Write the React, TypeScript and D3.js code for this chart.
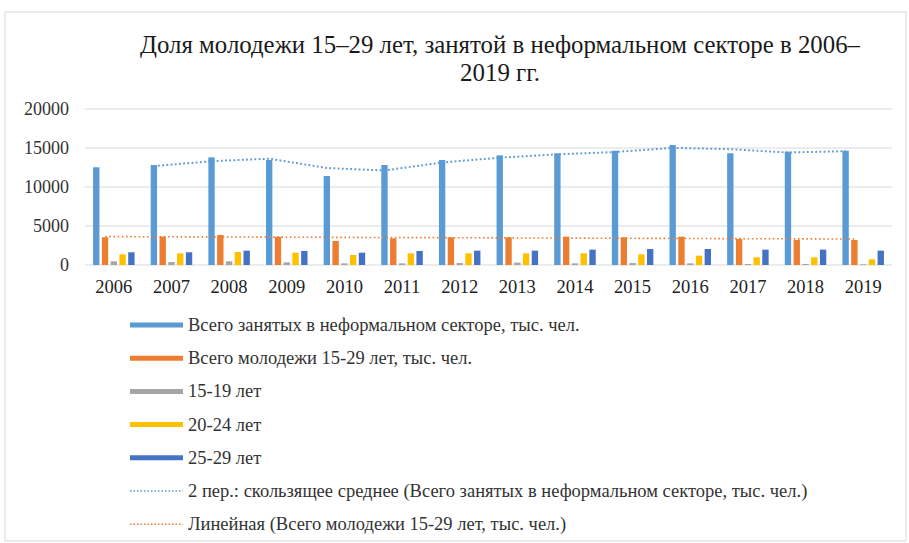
import React from "react";
import * as d3 from "d3";

const years = ["2006","2007","2008","2009","2010","2011","2012","2013","2014","2015","2016","2017","2018","2019"];
const totalInformal = [12530, 12820, 13800, 13460, 11410, 12820, 13460, 14060, 14320, 14650, 15380, 14320, 14530, 14650];
const youthTotal = [3550, 3630, 3850, 3630, 3080, 3420, 3550, 3550, 3630, 3550, 3630, 3330, 3200, 3200];
const age1519 = [470, 380, 470, 340, 210, 210, 250, 300, 210, 250, 210, 130, 130, 90];
const age2024 = [1370, 1500, 1670, 1580, 1280, 1500, 1500, 1500, 1500, 1370, 1200, 990, 990, 730];
const age2529 = [1630, 1630, 1840, 1800, 1580, 1800, 1840, 1840, 1970, 2050, 2050, 1970, 1970, 1840];
const yTicks = [0, 5000, 10000, 15000, 20000];

const seriesNames = [
  "Всего занятых в неформальном секторе, тыс. чел.",
  "Всего молодежи 15-29 лет, тыс. чел.",
  "15-19 лет",
  "20-24 лет",
  "25-29 лет",
];
const trendNames = [
  "2 пер.: скользящее среднее (Всего занятых в неформальном секторе, тыс. чел.)",
  "Линейная (Всего молодежи 15-29 лет, тыс. чел.)",
];
const colors = ["#5B9BD5", "#ED7D31", "#A5A5A5", "#FFC000", "#4472C4"];

const W = 909, H = 543;
const left = 85, right = 892, top = 109, bottom = 265;
const font = "Liberation Serif";

export default function App() {
  const series = [totalInformal, youthTotal, age1519, age2024, age2529];
  const x = d3.scaleBand<string>().domain(years).range([left, right]).paddingInner(0.28).paddingOuter(0.14);
  const xs = d3.scaleBand<number>().domain(d3.range(5)).range([0, x.bandwidth()]).paddingInner(0.276);
  const y = d3.scaleLinear().domain([0, 20000]).range([bottom, top]);

  const ma = years.slice(1).map((yr, i) => ({ yr, v: (totalInformal[i] + totalInformal[i + 1]) / 2 }));
  const maLine = d3.line<{ yr: string; v: number }>()
    .x(d => (x(d.yr) as number) + (xs(0) as number) + xs.bandwidth() / 2)
    .y(d => y(d.v));

  const idx = years.map((_, i) => i + 1);
  const mx = d3.mean(idx) as number, my = d3.mean(youthTotal) as number;
  const slope = d3.sum(idx.map((t, i) => (t - mx) * (youthTotal[i] - my))) / d3.sum(idx.map(t => (t - mx) ** 2));
  const icpt = my - slope * mx;
  const trendPts = years.map((yr, i) => ({ yr, v: icpt + slope * (i + 1) }));
  const trLine = d3.line<{ yr: string; v: number }>()
    .x(d => (x(d.yr) as number) + (xs(1) as number) + xs.bandwidth() / 2)
    .y(d => y(d.v));

  const legendY0 = 325, legendStep = 33.2;
  const ts = (size: number) => ({ fontFamily: font, fontSize: size });

  return (
    <div style={{ position: "fixed", left: 0, top: 0 }}>
      <svg width={W} height={H} style={{ display: "block", background: "#fff" }}>
        <rect x={5} y={12} width={901} height={529} fill="#fff" stroke="#d9d9d9" strokeWidth={1} />
        <text x={500} y={53} textAnchor="middle" style={ts(25)} fill="#1a1a1a"
          textLength={720} lengthAdjust="spacingAndGlyphs">
          Доля молодежи 15–29 лет, занятой в неформальном секторе в 2006–
        </text>
        <text x={500} y={81} textAnchor="middle" style={ts(25)} fill="#1a1a1a"
          textLength={80} lengthAdjust="spacingAndGlyphs">
          2019 гг.
        </text>

        {yTicks.map(t => (
          <g key={t}>
            <line x1={left} x2={right} y1={y(t)} y2={y(t)} stroke="#d9d9d9" strokeWidth={1} />
            <text x={69} y={y(t) + 6} textAnchor="end" style={ts(18)} fill="#333">{t}</text>
          </g>
        ))}

        {series.map((vals, si) => (
          <g key={si}>
            {vals.map((v, i) => (
              <rect key={i}
                x={(x(years[i]) as number) + (xs(si) as number)}
                y={y(v)}
                width={xs.bandwidth()}
                height={y(0) - y(v)}
                fill={colors[si]} />
            ))}
          </g>
        ))}

        <path d={trLine(trendPts) || ""} fill="none" stroke="#ED7D31" strokeWidth={1.6} strokeDasharray="1.6 2.6" />
        <path d={maLine(ma) || ""} fill="none" stroke="#5B9BD5" strokeWidth={2} strokeDasharray="1.8 2.4" />

        {years.map(yr => (
          <text key={yr} x={(x(yr) as number) + x.bandwidth() / 2} y={293} textAnchor="middle"
            style={ts(18.5)} fill="#222">{yr}</text>
        ))}

        {seriesNames.map((n, i) => (
          <g key={n}>
            <line x1={130} x2={183} y1={legendY0 + i * legendStep} y2={legendY0 + i * legendStep}
              stroke={colors[i]} strokeWidth={5} />
            <text x={188} y={legendY0 + i * legendStep + 6} style={ts(18.5)} fill="#333">{n}</text>
          </g>
        ))}
        {trendNames.map((n, j) => {
          const yy = legendY0 + (5 + j) * legendStep;
          return (
            <g key={n}>
              <line x1={130} x2={183} y1={yy} y2={yy} stroke={j === 0 ? "#5B9BD5" : "#ED7D31"}
                strokeWidth={1.5} strokeDasharray="1.5 2" />
              <text x={188} y={yy + 6} style={ts(18.5)} fill="#333">{n}</text>
            </g>
          );
        })}
      </svg>
    </div>
  );
}
